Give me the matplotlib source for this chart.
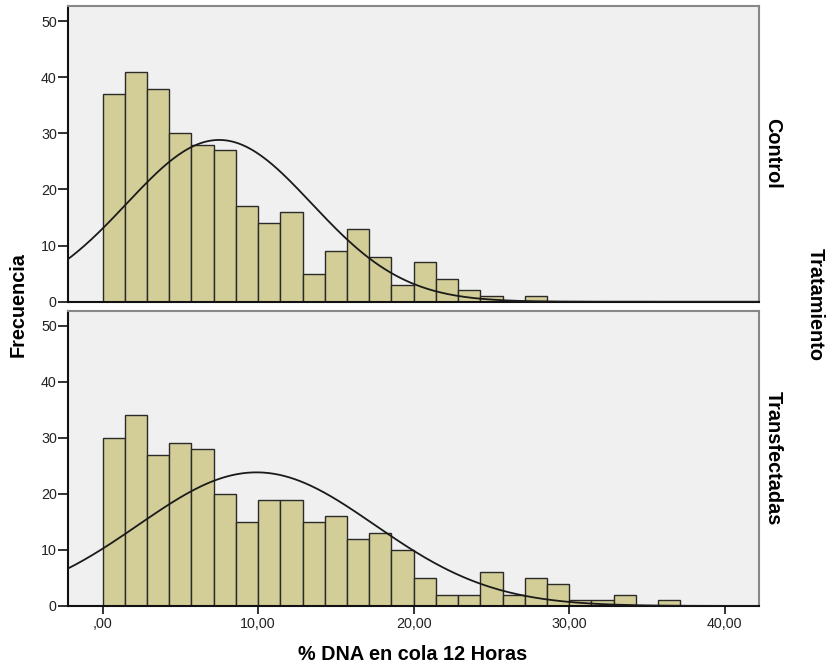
import numpy as np
import matplotlib
matplotlib.use('Agg')
import matplotlib.pyplot as plt

# histogram counts (bin width 10/7, starting at 0)
bin_width = 10.0 / 7.0
control_counts = [37, 41, 38, 30, 28, 27, 17, 14, 16, 5, 9, 13, 8, 3, 7, 4, 2, 1, 0, 1]
transf_counts = [30, 34, 27, 29, 28, 20, 15, 19, 19, 15, 16, 12, 13, 10, 5, 2, 2, 6, 2, 5,
                 4, 1, 1, 2, 0, 1]

# normal curve parameters (mean, sd) estimated from the plot
control_mean, control_sd = 7.5, 5.95
transf_mean, transf_sd = 9.9, 7.6

panel_names = ['Control', 'Transfectadas']
y_ticks = [0, 10, 20, 30, 40, 50]
x_ticks = [0, 10, 20, 30, 40]
x_tick_labels = [',00', '10,00', '20,00', '30,00', '40,00']

bar_color = '#D3CE97'
bg_color = '#F0F0F0'

plt.rcParams['font.family'] = ['Liberation Sans', 'DejaVu Sans']

fig = plt.figure(figsize=(8.27, 6.69), dpi=100)
ax_top = fig.add_axes([0.0822, 0.549, 0.8355, 0.442])
ax_bot = fig.add_axes([0.0822, 0.0942, 0.8355, 0.4414])

panels = [(ax_top, control_counts, control_mean, control_sd),
          (ax_bot, transf_counts, transf_mean, transf_sd)]

xx = np.linspace(-2.3, 42.3, 400)
for i, (ax, counts, mu, sd) in enumerate(panels):
    counts = np.array(counts)
    left_edges = np.arange(len(counts)) * bin_width
    ax.set_facecolor(bg_color)
    ax.bar(left_edges, counts, width=bin_width, align='edge', color=bar_color,
           edgecolor='#2a2a2a', linewidth=1.0, zorder=2)
    n = counts.sum()
    yy = n * bin_width / (sd * np.sqrt(2 * np.pi)) * np.exp(-0.5 * ((xx - mu) / sd) ** 2)
    ax.plot(xx, yy, color='#1a1a1a', linewidth=1.3, zorder=3)
    ax.set_xlim(-2.22, 42.2)
    ax.set_ylim(0, 52.7)
    ax.set_yticks(y_ticks)
    ax.tick_params(axis='y', direction='out', length=7, width=1.3, labelsize=10.3,
                   pad=1, colors='#222222')
    for side in ['left', 'bottom']:
        ax.spines[side].set_color('#111111')
        ax.spines[side].set_linewidth(1.5)
    for side in ['top', 'right']:
        ax.spines[side].set_color('#888888')
        ax.spines[side].set_linewidth(1.5)
    ax.text(1.02, 0.5, panel_names[i], transform=ax.transAxes, rotation=270,
            ha='center', va='center', fontsize=14.3, fontweight='bold')

ax_top.set_xticks([])
ax_bot.set_xticks(x_ticks)
ax_bot.set_xticklabels(x_tick_labels)
ax_bot.tick_params(axis='x', direction='out', length=6, width=1.3, labelsize=10.3,
                   pad=2, colors='#222222')

fig.text(412.5 / 827, 1 - 655 / 669, '% DNA en cola 12 Horas', ha='center', va='center',
         fontsize=14.3, fontweight='bold')
fig.text(18 / 827, 1 - 305 / 669, 'Frecuencia', rotation=90, ha='center', va='center',
         fontsize=14.3, fontweight='bold')
fig.text(815 / 827, 1 - 305 / 669, 'Tratamiento', rotation=270, ha='center', va='center',
         fontsize=14.3, fontweight='bold')

fig.savefig('out.png', dpi=100)
